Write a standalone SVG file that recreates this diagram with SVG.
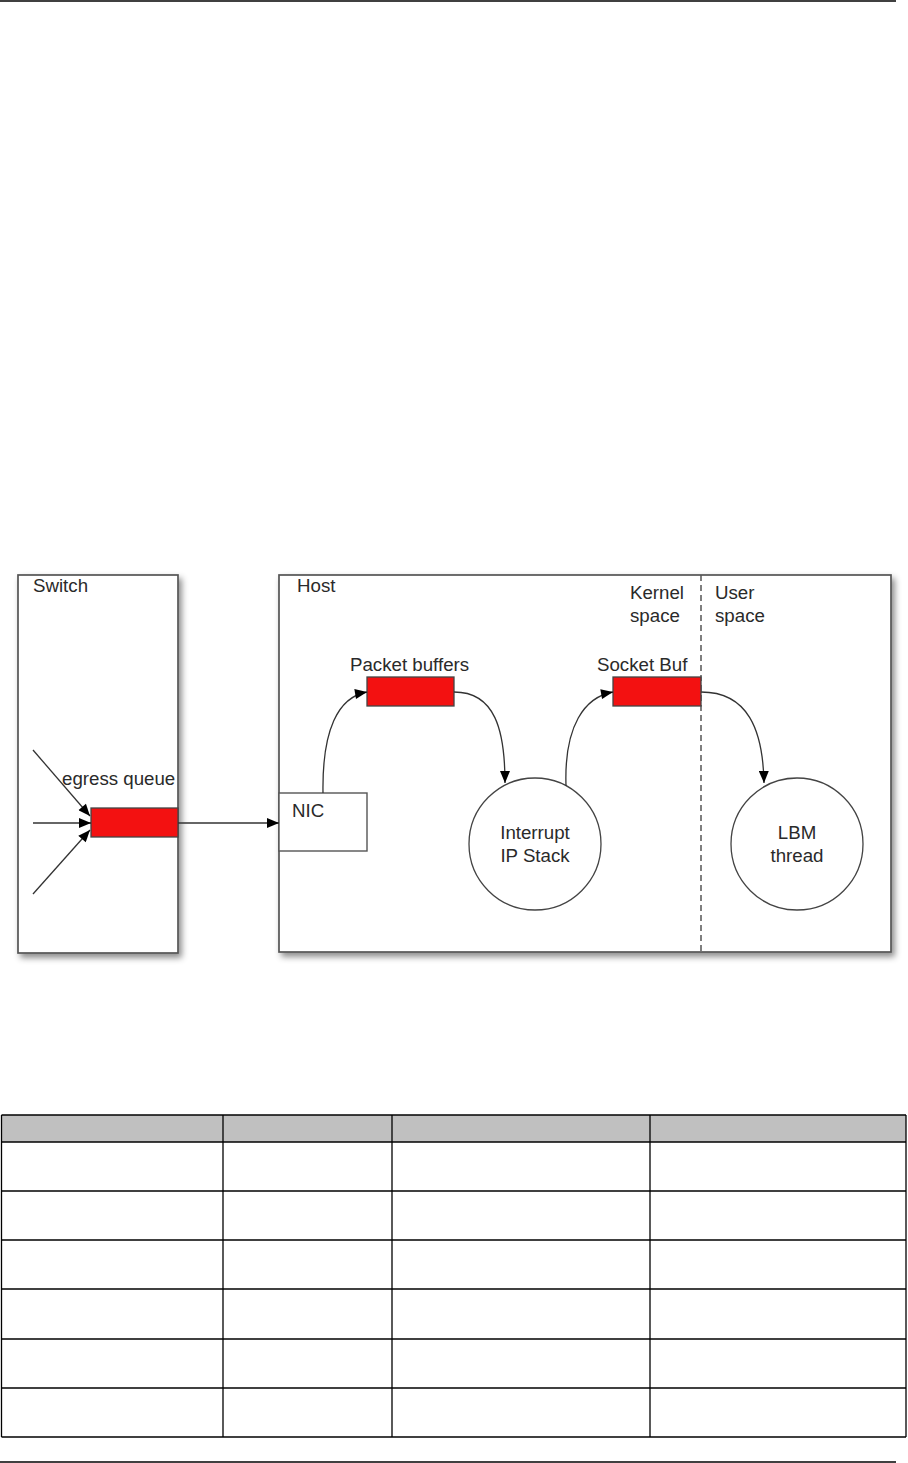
<svg xmlns="http://www.w3.org/2000/svg" width="908" height="1463" viewBox="0 0 908 1463">
<style>
.box{fill:#fff;stroke:#555;stroke-width:1.7}
.buf{fill:#f31111;stroke:#444;stroke-width:1.3}
.lbl{font-family:"Liberation Sans",Arial,sans-serif;font-size:18.7px;fill:#2a2a2a}
.mid{text-anchor:middle}
.conn{fill:none;stroke:#333;stroke-width:1.3}
.rule{stroke:#000;stroke-width:1.5}
.tl{stroke:#000;stroke-width:1.3}
</style>
<defs>
<marker id="ah" viewBox="0 0 12 10" refX="12" refY="5" markerWidth="13" markerHeight="10" markerUnits="userSpaceOnUse" orient="auto">
<path d="M0,0 L12,5 L0,10 z" fill="#000"/>
</marker>
<filter id="sh" x="-10%" y="-10%" width="130%" height="130%">
<feDropShadow dx="3" dy="4" stdDeviation="3" flood-color="#000" flood-opacity="0.45"/>
</filter>
</defs>

<line class="rule" x1="0" y1="1" x2="896" y2="1"/>

<g id="switch">
<rect class="box" x="18" y="575" width="160" height="378" filter="url(#sh)"/>
<text class="lbl" x="33" y="592">Switch</text>
</g>

<g id="host">
<rect class="box" x="279" y="575" width="612" height="377" filter="url(#sh)"/>
<text class="lbl" x="297" y="592">Host</text>
<line x1="701" y1="575" x2="701" y2="952" stroke="#555" stroke-width="1.5" stroke-dasharray="6,4"/>
<text class="lbl" x="630" y="599">Kernel</text>
<text class="lbl" x="630" y="622">space</text>
<text class="lbl" x="715" y="599">User</text>
<text class="lbl" x="715" y="622">space</text>
</g>

<g id="egress-queue">
<rect class="buf" x="91" y="808" width="87" height="29"/>
<text class="lbl" x="62" y="785">egress queue</text>
</g>

<g id="nic">
<rect fill="#fff" stroke="#555" stroke-width="1.4" x="279" y="793" width="88" height="58"/>
<text class="lbl" x="292" y="817">NIC</text>
</g>

<g id="packet-buffers">
<rect class="buf" x="367" y="677" width="87" height="29"/>
<text class="lbl" x="350" y="671">Packet buffers</text>
</g>

<g id="socket-buf">
<rect class="buf" x="613" y="677" width="88" height="29"/>
<text class="lbl" x="597" y="671">Socket Buf</text>
</g>

<g id="interrupt">
<circle cx="535" cy="844" r="66" fill="#fff" stroke="#444" stroke-width="1.3"/>
<text class="lbl mid" x="535" y="839">Interrupt</text>
<text class="lbl mid" x="535" y="862">IP Stack</text>
</g>

<g id="lbm-thread">
<circle cx="797" cy="844" r="66" fill="#fff" stroke="#444" stroke-width="1.3"/>
<text class="lbl mid" x="797" y="839">LBM</text>
<text class="lbl mid" x="797" y="862">thread</text>
</g>

<g id="connectors">
<path class="conn" d="M33,750 L90,816" marker-end="url(#ah)"/>
<path class="conn" d="M33,823 L91,823" marker-end="url(#ah)"/>
<path class="conn" d="M33,894 L90,830" marker-end="url(#ah)"/>
<path class="conn" d="M178,823 L279,823" marker-end="url(#ah)"/>
<path class="conn" d="M323,793 C322,730 338,697 367,692" marker-end="url(#ah)"/>
<path class="conn" d="M454,692 C495,692 505,730 505,783" marker-end="url(#ah)"/>
<path class="conn" d="M566,786 C564,725 585,697 613,692" marker-end="url(#ah)"/>
<path class="conn" d="M701,692 C748,692 763,730 764,783" marker-end="url(#ah)"/>
</g>

<g id="table">
<rect x="1.5" y="1115" width="904.5" height="27" fill="#c0c0c0"/>
<line class="tl" x1="1.5" y1="1115" x2="906" y2="1115"/>
<line class="tl" x1="1.5" y1="1142" x2="906" y2="1142"/>
<line class="tl" x1="1.5" y1="1191" x2="906" y2="1191"/>
<line class="tl" x1="1.5" y1="1240" x2="906" y2="1240"/>
<line class="tl" x1="1.5" y1="1289" x2="906" y2="1289"/>
<line class="tl" x1="1.5" y1="1339" x2="906" y2="1339"/>
<line class="tl" x1="1.5" y1="1388" x2="906" y2="1388"/>
<line class="tl" x1="1.5" y1="1437" x2="906" y2="1437"/>
<line class="tl" x1="1.5" y1="1115" x2="1.5" y2="1437"/>
<line class="tl" x1="223" y1="1115" x2="223" y2="1437"/>
<line class="tl" x1="392" y1="1115" x2="392" y2="1437"/>
<line class="tl" x1="650" y1="1115" x2="650" y2="1437"/>
<line class="tl" x1="906" y1="1115" x2="906" y2="1437"/>
</g>

<line class="rule" x1="0" y1="1462" x2="896" y2="1462"/>
</svg>
